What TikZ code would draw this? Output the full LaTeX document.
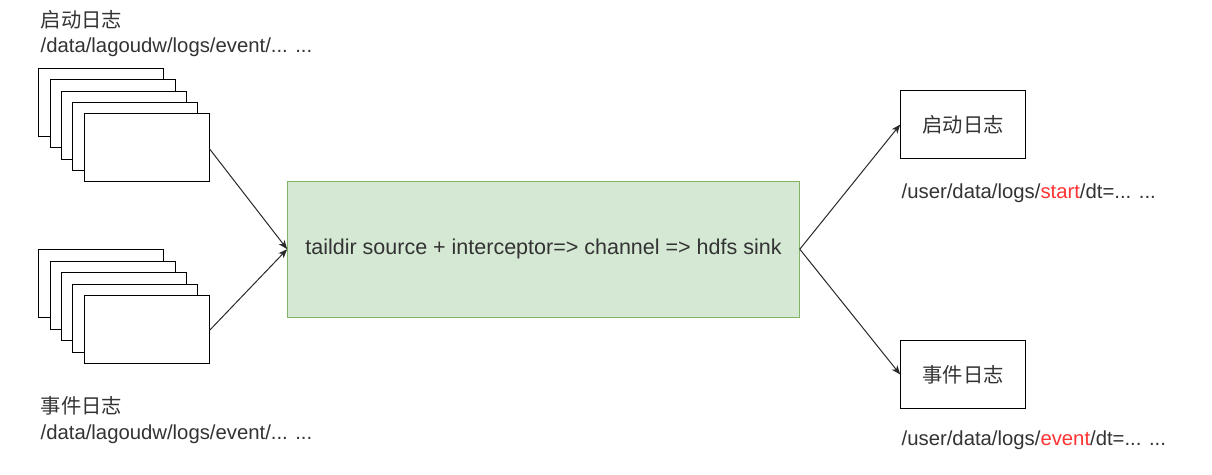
\documentclass[tikz,border=0pt]{standalone}
\usepackage{fontspec}
\setmainfont{Liberation Sans}
\newfontfamily\cjk{Noto Sans CJK SC}
\usetikzlibrary{arrows.meta}
\definecolor{txt}{HTML}{333333}
\definecolor{gfill}{HTML}{D5E8D4}
\definecolor{gline}{HTML}{82B366}
\definecolor{hl}{HTML}{FF3333}
\begin{document}
\begin{tikzpicture}[x=1pt,y=-1pt,
  page/.style={draw=black,fill=white,line width=1pt,minimum width=125pt,minimum height=68pt,inner sep=0pt,anchor=north west},
  lbl/.style={font=\fontsize{20.3}{22}\selectfont,text=txt,inner sep=0pt,anchor=base west},
  cjklbl/.style={font=\cjk\fontsize{20.3}{22}\selectfont,text=txt,inner sep=0pt,anchor=base west},
  box/.style={draw=black,fill=white,line width=1pt,minimum width=125pt,minimum height=67.6pt,inner sep=0pt,font=\cjk\fontsize{20.3}{22}\selectfont,text=txt},
  main/.style={draw=gline,fill=gfill,line width=1pt,minimum width=511.6pt,minimum height=136.3pt,inner sep=0pt,font=\fontsize{21.5}{24}\selectfont,text=txt},
  conn/.style={draw=txt!80!black,line width=1pt,-{Stealth[length=9pt,width=7pt,inset=2.5pt]}}
]
\useasboundingbox (0,0) rectangle (1212,474);
% top stack
\foreach \i in {0,...,4} {
  \node[page] (t\i) at ({38.3+11.3*\i},{67.7+11.4*\i}) {};
}
% bottom stack
\foreach \i in {0,...,4} {
  \node[page] (b\i) at ({38.3+11.3*\i},{249.3+11.4*\i}) {};
}
\node[cjklbl] (tl1) at (40.5,27) {启动日志};
\node[lbl] (tl2) at (40.5,52) {/data/lagoudw/logs/event/... ...};
\node[cjklbl] (bl1) at (40.5,413) {事件日志};
\node[lbl] (bl2) at (40.5,439) {/data/lagoudw/logs/event/... ...};

\node[main] (m) at (543.5,249.2) {taildir source + interceptor=> channel => hdfs sink};

\node[box] (s) at (963.2,124.5) {启动日志};
\node[box] (e) at (963.2,374.5) {事件日志};
\node[lbl] (sl) at (901.5,198) {/user/data/logs/\textcolor{hl}{start}/dt=... ...};
\node[lbl] (el) at (901.5,445) {/user/data/logs/\textcolor{hl}{event}/dt=... ...};

\draw[conn] ([yshift=-1pt]t4.east) -- (m.west);
\draw[conn] ([yshift=-1pt]b4.east) -- (m.west);
\draw[conn] (m.east) -- (s.west);
\draw[conn] (m.east) -- (e.west);
\end{tikzpicture}
\end{document}
